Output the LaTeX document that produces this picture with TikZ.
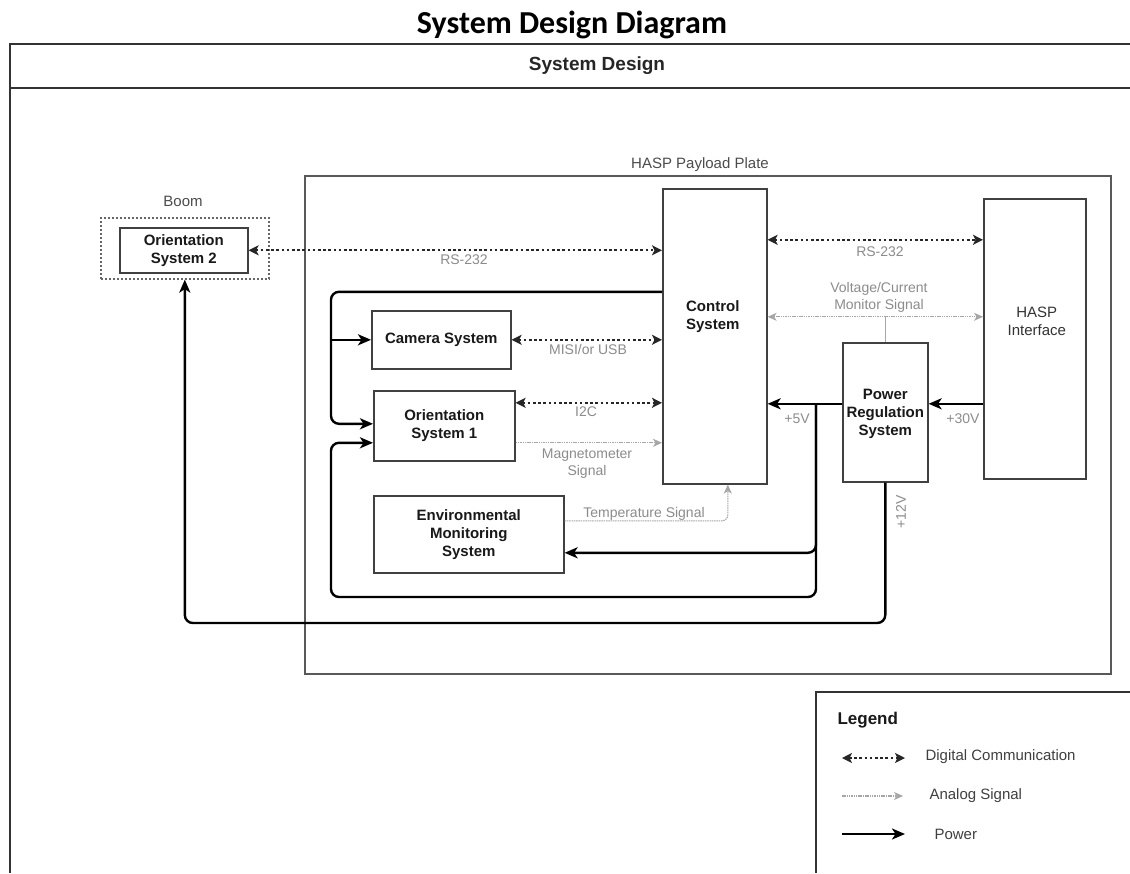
\documentclass[tikz,border=0pt]{standalone}
\usepackage{fontspec}
\setmainfont{Liberation Sans}
\newfontfamily\titlefont{Carlito}
\usetikzlibrary{arrows.meta,calc}

\begin{document}
\begin{tikzpicture}[x=1pt,y=-1pt,
  frameline/.style={draw=black!80, line width=2.4pt},
  blockbox/.style={draw=black!75, line width=1.6pt, fill=white, inner sep=0pt, anchor=north west},
  blocktitle/.style={font=\fontsize{15}{18}\selectfont\bfseries, align=center, text=black!90},
  blockplain/.style={font=\fontsize{15}{18}\selectfont, align=center, text=black!80},
  linknote/.style={font=\fontsize{14}{17}\selectfont, text=black!45, align=center},
  legtext/.style={font=\fontsize{15}{18}\selectfont, text=black!75, anchor=west},
  dtip/.tip={Stealth[length=10pt,width=10pt,inset=2.5pt]},
  digital/.style={draw=black!85, line width=1.8pt, dash pattern=on 2.6pt off 2.6pt, {dtip}-{dtip}},
  atip/.tip={Stealth[length=9pt,width=8pt,inset=2.5pt]},
  analogline/.style={draw=black!35, line width=1.1pt},
  analog/.style={analogline, dash pattern=on 1.5pt off 0.8pt, -{atip}},
  analogboth/.style={analogline, dash pattern=on 1.5pt off 0.8pt, {atip}-{atip}},
  powerline/.style={draw=black, line width=2.4pt, rounded corners=8pt, -{Stealth[length=13pt,width=11pt,inset=3.5pt]}}
]
\useasboundingbox (0,0) rectangle (1130,873);
\fill[white] (0,0) rectangle (1130,873);

% ---- title and outer frame ----
\node[font=\titlefont\fontsize{32}{38}\selectfont\bfseries, anchor=base] (title) at (572,33) {System Design Diagram};
\draw[frameline] (10,873) -- (10,44) -- (1130,44);
\draw[frameline] (10,88) -- (1130,88);
\node[font=\fontsize{19}{22}\selectfont\bfseries, text=black!85] (head) at (597,66) {System Design};

% ---- containers ----
\node[draw=black!65, line width=1.8pt, inner sep=0pt, anchor=north west,
      minimum width=806pt, minimum height=498pt] (plate) at (304,175) {};
\node[font=\fontsize{15}{18}\selectfont, text=black!70, anchor=base] (platelbl) at (700,168) {HASP Payload Plate};

\node[draw=black!60, line width=1.6pt, dash pattern=on 2pt off 2pt, inner sep=0pt, anchor=north west,
      minimum width=168pt, minimum height=61pt] (boom) at (100,217) {};
\node[font=\fontsize{15}{18}\selectfont, text=black!70] (boomlbl) at (183,201) {Boom};

% ---- blocks ----
\node[blockbox, minimum width=128pt, minimum height=45pt] (os2) at (119,227) {};
\node[blocktitle] (os2t) at (os2.center) {Orientation\\System 2};

\node[blockbox, minimum width=104pt, minimum height=295pt] (ctrl) at (662,188) {};
\node[blocktitle] (ctrlt) at ([xshift=-2pt,yshift=19.5pt]ctrl.center) {Control\\System};

\node[blockbox, minimum width=102pt, minimum height=280pt] (hasp) at (983,198) {};
\node[blockplain] (haspt) at ([xshift=2pt,yshift=17pt]hasp.center) {HASP\\Interface};

\node[blockbox, minimum width=85pt, minimum height=139pt] (prs) at (842,342) {};
\node[blocktitle] (prst) at ([yshift=-1.5pt]prs.center) {Power\\Regulation\\System};

\node[blockbox, minimum width=139pt, minimum height=58pt] (cam) at (371,310) {};
\node[blocktitle] (camt) at (cam.center) {Camera System};

\node[blockbox, minimum width=141pt, minimum height=70pt] (os1) at (373,390) {};
\node[blocktitle] (os1t) at (os1.center) {Orientation\\System 1};

\node[blockbox, minimum width=190pt, minimum height=77pt] (env) at (373,495) {};
\node[blocktitle] (envt) at (env.center) {Environmental\\Monitoring\\System};

% ---- helper points ----
\coordinate (monL) at ([yshift=19.5pt]ctrl.east);
\coordinate (monR) at ([yshift=22pt]hasp.west);
\coordinate (i2c) at ([yshift=23pt]os1.east);
\coordinate (mag) at ([yshift=-17pt]os1.east);
\coordinate (tmp) at ([yshift=13.5pt]env.east);
\coordinate (tx) at ([xshift=13pt]ctrl.south);
\coordinate (p30) at ([yshift=-65pt]hasp.west);
\coordinate (br5) at (816,403);
\coordinate (envIn) at ([yshift=-18.5pt]env.east);
\coordinate (loopB) at (331,597);
\coordinate (os1A) at ([yshift=2pt]os1.west);
\coordinate (os1B) at ([yshift=-17pt]os1.west);
\coordinate (cTop) at ([yshift=44.5pt]ctrl.west);
\coordinate (yb) at (0,623);

% ---- digital links ----
\draw[digital] (os2.east) -- (os2.east -| ctrl.west);
\node[linknote] (l1) at (464,260) {RS-232};
\draw[digital] ([yshift=96.5pt]ctrl.east) -- ([yshift=99pt]hasp.west);
\node[linknote] (l2) at (880,252) {RS-232};
\draw[digital] (cam.east) -- (cam.east -| ctrl.west);
\node[linknote] (l3) at (588,349) {MISI/or USB};
\draw[digital] (i2c) -- (i2c -| ctrl.west);
\node[linknote] (l4) at (586,412) {I2C};

% ---- analog links ----
\draw[analogboth] (monL) -- (monR);
\draw[analogline] (prs.north) -- (prs.north |- monL);
\node[linknote] (l5) at (879,297) {Voltage/Current\\Monitor Signal};
\draw[analog] (mag) -- (mag -| ctrl.west);
\node[linknote] (l6) at (587,464) {Magnetometer\\Signal};
\draw[analog, rounded corners=6pt] (tmp) -- (tmp -| tx) -- (tx);
\node[linknote, anchor=base] (l7) at (644,517) {Temperature Signal};

% ---- power ----
\draw[powerline] (p30) -- (p30 -| prs.east);
\node[linknote] (l8) at (963,419) {+30V};
\draw[powerline] (p30 -| prs.west) -- (p30 -| ctrl.east);
\node[linknote] (l9) at (797,419) {+5V};
\draw[powerline] (br5) -- (br5 |- envIn) -- (envIn);
\draw[powerline] (br5) -- (br5 |- loopB) -- (loopB) -- (loopB |- os1B) -- (os1B);
\draw[powerline] (cTop) -- (cTop -| loopB) -- (loopB |- os1A) -- (os1A);
\draw[powerline] (cam.west -| loopB) -- (cam.west);
\draw[powerline] (prs.south) -- (prs.south |- yb) -- (boom.south |- yb) -- (boom.south);
\node[linknote, rotate=90] (l10) at (901,512) {+12V};

% ---- legend ----
\draw[frameline] (816,873) -- (816,692) -- (1130,692);
\node[font=\fontsize{17}{20}\selectfont\bfseries, anchor=west, text=black!90] (leg) at (834,720) {Legend};
\coordinate (d1) at (842,758); \coordinate (d2) at (905,758);
\coordinate (a1) at (842,796); \coordinate (a2) at (903,796);
\coordinate (w1) at (842,834); \coordinate (w2) at (905,834);
\draw[digital] (d1) -- (d2);
\node[legtext] (t1) at (922,757) {Digital Communication};
\draw[analog] (a1) -- (a2);
\node[legtext] (t2) at (926,796) {Analog Signal};
\draw[powerline] (w1) -- (w2);
\node[legtext] (t3) at (931,834) {Power};
\end{tikzpicture}
\end{document}
